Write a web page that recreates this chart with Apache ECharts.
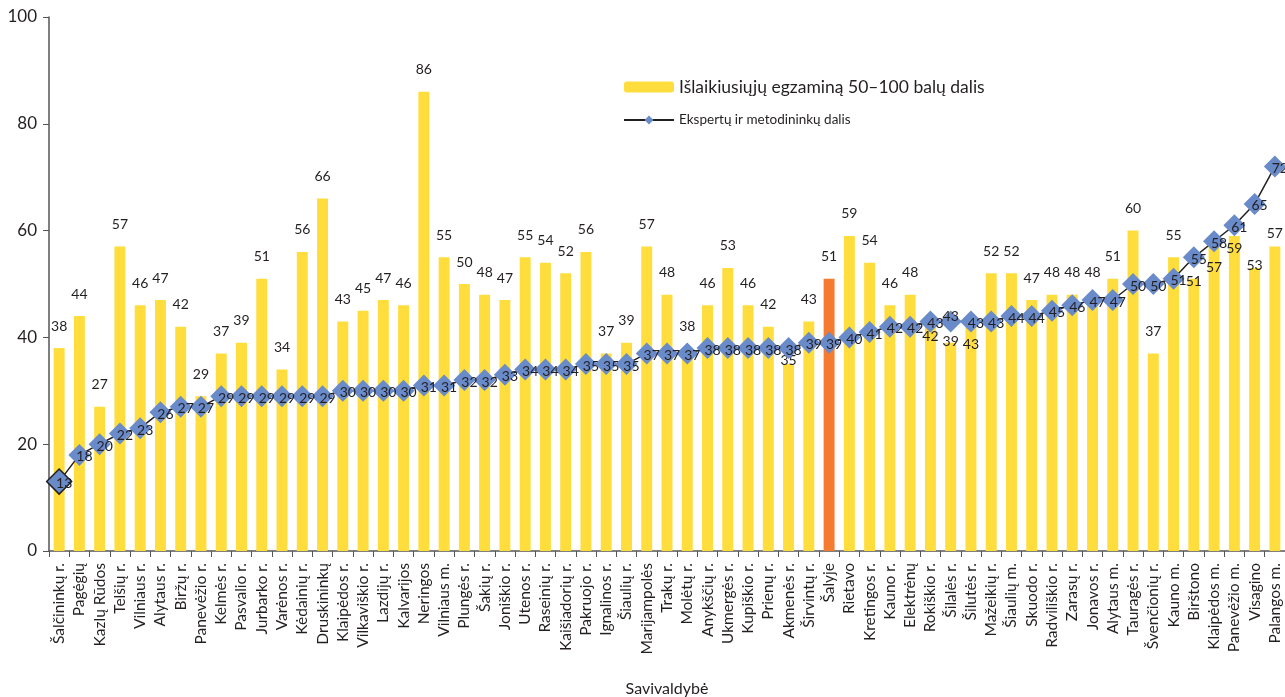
<!DOCTYPE html>
<html><head><meta charset="utf-8">
<script src="https://cdn.jsdelivr.net/npm/echarts@6/dist/echarts.min.js"></script>
<style>html,body{margin:0;padding:0;background:#fff}#c{width:1285px;height:697px}</style>
</head><body><div id="c"></div>
<script>
const categories = ["Šalčininkų r.","Pagėgių","Kazlų Rūdos","Telšių r.","Vilniaus r.","Alytaus r.","Biržų r.","Panevėžio r.","Kelmės r.","Pasvalio r.","Jurbarko r.","Varėnos r.","Kėdainių r.","Druskininkų","Klaipėdos r.","Vilkaviškio r.","Lazdijų r.","Kalvarijos","Neringos","Vilniaus m.","Plungės r.","Šakių r.","Joniškio r.","Utenos r.","Raseinių r.","Kaišiadorių r.","Pakruojo r.","Ignalinos r.","Šiaulių r.","Marijampolės","Trakų r.","Molėtų r.","Anykščių r.","Ukmergės r.","Kupiškio r.","Prienų r.","Akmenės r.","Širvintų r.","Šalyje","Rietavo","Kretingos r.","Kauno r.","Elektrėnų","Rokiškio r.","Šilalės r.","Šilutės r.","Mažeikių r.","Šiaulių m.","Skuodo r.","Radviliškio r.","Zarasų r.","Jonavos r.","Alytaus m.","Tauragės r.","Švenčionių r.","Kauno m.","Birštono","Klaipėdos m.","Panevėžio m.","Visagino","Palangos m."];
const passedShare = [38,44,27,57,46,47,42,29,37,39,51,34,56,66,43,45,47,46,86,55,50,48,47,55,54,52,56,37,39,57,48,38,46,53,46,42,35,43,51,59,54,46,48,42,39,43,52,52,47,48,48,48,51,60,37,55,51,57,59,53,57];
const expertShare = [13,18,20,22,23,26,27,27,29,29,29,29,29,29,30,30,30,30,31,31,32,32,33,34,34,34,35,35,35,37,37,37,38,38,38,38,38,39,39,40,41,42,42,43,43,43,43,44,44,45,46,47,47,50,50,51,55,58,61,65,72];
const yTicks = [0,20,40,60,80,100];
const seriesNames = ["Išlaikiusiųjų egzaminą 50–100 balų dalis","Ekspertų ir metodininkų dalis"];
const highlightCategory = "Šalyje";

const FONT = "Lato, 'Open Sans', sans-serif";
const TXT = "#231f20";
// label shifts to mimic the reference's overlap handling
const barLabelShift = {"Rokiškio r.":32,"Šilalės r.":21,"Šilutės r.":45,"Akmenės r.":18,"Birštono":25,"Klaipėdos m.":43,"Panevėžio m.":35,"Visagino":20,"Palangos m.":9};
const lineLabelShift = {"Šilalės r.":[0,-5]};

const barData = passedShare.map((v,i)=>{
  const c = categories[i];
  const item = {value:v};
  if (c===highlightCategory) item.itemStyle = {color:"#f47b30"};
  if (barLabelShift[c]!==undefined) item.label = {offset:[0,barLabelShift[c]]};
  return item;
});
const lineData = expertShare.map((v,i)=>{
  const c = categories[i];
  const item = {value:v};
  if (i===0) { item.symbolSize = 25; item.itemStyle = {borderColor:"#231f20",borderWidth:1.5}; }
  if (lineLabelShift[c]) item.label = {offset:lineLabelShift[c]};
  return item;
});

const chart = echarts.init(document.getElementById('c'));
chart.setOption({
  animation:false,
  textStyle:{fontFamily:FONT},
  grid:{left:49,right:0,top:17,bottom:146,containLabel:false,outerBoundsMode:'none'},
  legend:{
    orient:'vertical', left:618, top:73, itemWidth:50, itemHeight:11, itemGap:17,
    data:[
      {name:seriesNames[0], textStyle:{fontSize:17.5}},
      {name:seriesNames[1], textStyle:{fontSize:13.5}, itemStyle:{color:'#6a8bc9'}}
    ],
    textStyle:{color:TXT,fontFamily:FONT}
  },
  xAxis:{
    type:'category', data:categories, boundaryGap:true,
    axisLine:{lineStyle:{color:'#555',width:1.5}},
    axisTick:{show:true,inside:false,length:6,lineStyle:{color:'#555'}},
    axisLabel:{rotate:90,interval:0,color:TXT,fontSize:15.5,fontFamily:FONT,margin:12},
    name:'Savivaldybė', nameLocation:'middle', nameGap:130, nameMoveOverlap:false,
    nameTextStyle:{color:TXT,fontSize:16,fontFamily:FONT}
  },
  yAxis:{
    type:'value', min:yTicks[0], max:yTicks[yTicks.length-1], interval:20,
    axisLine:{show:true,lineStyle:{color:'#555',width:1.5}},
    axisTick:{show:true,length:6,lineStyle:{color:'#555'}},
    splitLine:{show:false},
    axisLabel:{color:TXT,fontSize:17,fontFamily:FONT,margin:12}
  },
  series:[
    {
      name:seriesNames[0], type:'bar', data:barData, barWidth:'54%',
      itemStyle:{color:'#fedd3c'},
      label:{show:true,position:'top',distance:15,color:TXT,fontSize:14,fontFamily:FONT}
    },
    {
      name:seriesNames[1], type:'line', data:lineData,
      symbol:'diamond', symbolSize:22,
      itemStyle:{color:'#6a8bc9'},
      lineStyle:{color:'#231f20',width:1.5},
      label:{show:true,position:'inside',offset:[5,2],color:TXT,fontSize:14,fontFamily:FONT},
      z:5
    }
  ]
});
</script></body></html>
